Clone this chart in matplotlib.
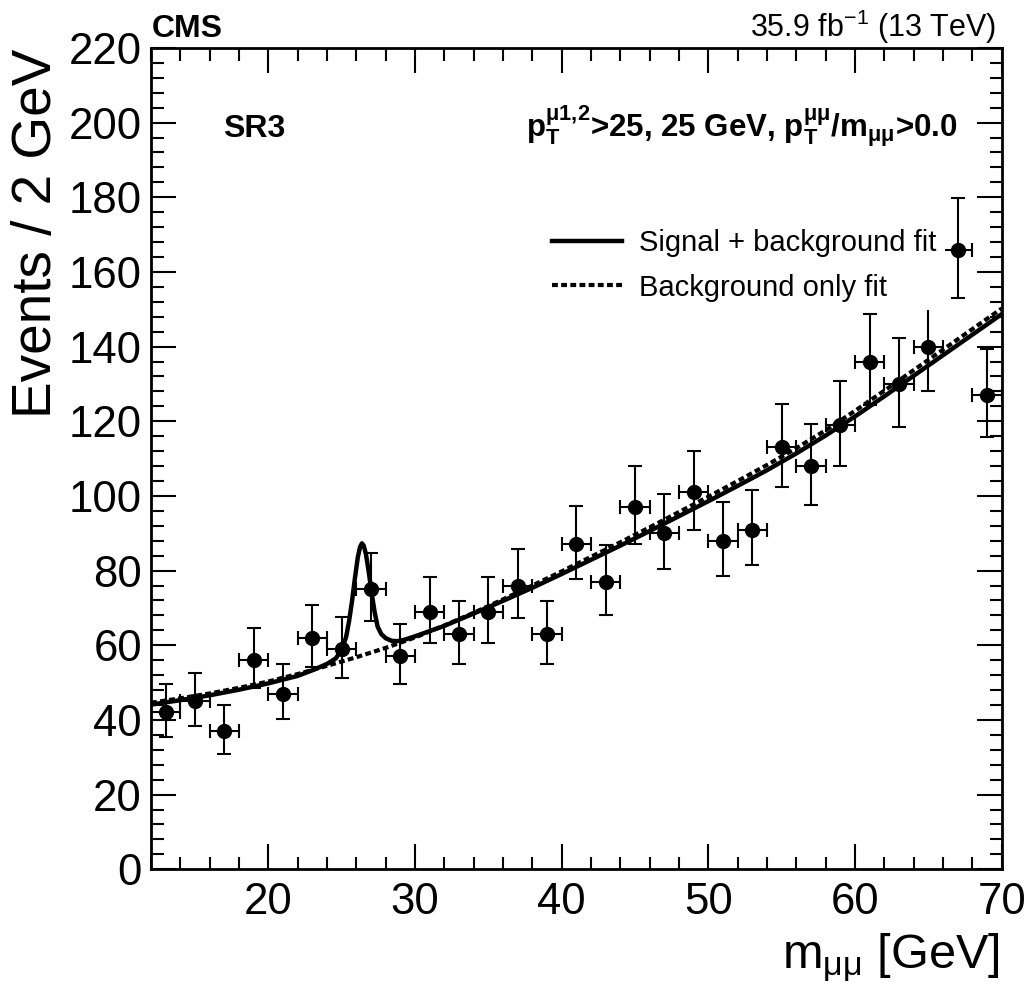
import matplotlib
matplotlib.use("Agg")
import matplotlib.pyplot as plt
from matplotlib.ticker import MultipleLocator

plt.rcParams['font.family'] = ['Liberation Sans', 'DejaVu Sans']
plt.rcParams['mathtext.fontset'] = 'custom'
plt.rcParams['mathtext.rm'] = 'Liberation Sans'
plt.rcParams['mathtext.it'] = 'Liberation Sans:italic'
plt.rcParams['mathtext.bf'] = 'Liberation Sans:bold'

# dados (centro do bin, eventos, erros de Poisson)
mass = [13, 15, 17, 19, 21, 23, 25, 27, 29, 31, 33, 35, 37, 39, 41,
        43, 45, 47, 49, 51, 53, 55, 57, 59, 61, 63, 65, 67, 69]
events = [42, 45, 37, 56, 47, 62, 59, 75, 57, 69, 63, 69, 76, 63, 87,
          77, 97, 90, 101, 88, 91, 113, 108, 119, 136, 130, 140, 166, 127]
err_lo = [6.5, 6.7, 6.1, 7.5, 6.8, 7.9, 7.7, 8.6, 7.5, 8.3, 7.9, 8.3, 8.7, 7.9, 9.3,
          8.8, 9.8, 9.5, 10.0, 9.4, 9.5, 10.6, 10.4, 10.9, 11.7, 11.4, 11.8, 12.9, 11.3]
err_hi = [7.5, 7.7, 7.1, 8.5, 7.9, 8.9, 8.7, 9.7, 8.6, 9.3, 8.9, 9.3, 9.7, 8.9, 10.3,
          9.8, 10.9, 10.5, 11.1, 10.4, 10.5, 11.6, 11.4, 11.9, 12.7, 12.4, 12.9, 13.9, 12.3]
bin_half = 1.0

# ajuste só de fundo (tracejado)
bkg_x = [12, 14, 16, 18, 20, 22, 24, 26, 28, 30, 32, 34, 36, 38, 40,
         42, 44, 46, 48, 50, 52, 54, 56, 58, 60, 62, 64, 66, 68, 70]
bkg_y = [44.6, 45.8, 47.1, 48.6, 50.3, 52.3, 54.5, 56.8, 59.3, 62.1, 65.3, 68.7, 72.3, 76.0, 79.8,
         83.7, 87.6, 91.6, 95.7, 99.8, 104.0, 108.3, 112.8, 117.6, 122.8, 128.2, 133.7, 139.2, 144.7, 150.2]

# ajuste sinal + fundo (linha cheia)
sb_x = [12, 14, 16, 18, 20, 22, 23, 24, 24.6, 25.0, 25.3, 25.5, 25.7, 25.9, 26.1,
        26.25, 26.38, 26.5, 26.65, 26.85, 27.05, 27.25, 27.45, 27.7, 28.0, 28.4, 28.8, 29.3, 30,
        32, 34, 36, 38, 40, 42, 44, 46, 48, 50, 52, 54, 56, 58, 60, 62, 64, 66, 68, 70]
sb_y = [44.1, 45.3, 46.6, 48.1, 49.8, 51.8, 53.3, 55.0, 56.5, 58.8, 62.2, 66.4, 71.7, 77.9, 83.6,
        86.3, 87.3, 86.7, 84.5, 79.5, 73.8, 68.8, 65.0, 63.0, 61.9, 61.2, 61.1, 61.5, 62.4,
        65.2, 68.5, 71.9, 75.4, 79.1, 82.9, 86.7, 90.6, 94.6, 98.6, 102.7, 106.9, 111.4, 116.2,
        121.3, 126.7, 132.2, 137.7, 143.2, 148.7]

fig = plt.figure(figsize=(10.33, 9.83), dpi=100)
ax = fig.add_axes([0.1462, 0.1157, 0.8235, 0.8355])

ax.plot(sb_x, sb_y, color="black", lw=3.2, label="Signal + background fit", zorder=3)
ax.plot(bkg_x, bkg_y, color="black", lw=3.0, dashes=(1.4, 0.8),
        label="Background only fit", zorder=3)
ax.errorbar(mass, events, yerr=[err_lo, err_hi], xerr=bin_half, fmt="o", color="black",
            ms=10, elinewidth=1.5, capsize=4.7, capthick=1.5, zorder=4)

ax.set_xlim(12, 70)
ax.set_ylim(0, 220)
ax.xaxis.set_major_locator(MultipleLocator(10))
ax.xaxis.set_minor_locator(MultipleLocator(2))
ax.yaxis.set_major_locator(MultipleLocator(20))
ax.yaxis.set_minor_locator(MultipleLocator(4))
ax.tick_params(which="both", direction="in", top=True, right=True, width=1.5)
ax.tick_params(which="major", length=18)
ax.tick_params(which="minor", length=9)
ax.tick_params(axis="x", labelsize=31.5, pad=9)
ax.tick_params(axis="y", labelsize=31.5, pad=6.5)
for s in ax.spines.values():
    s.set_linewidth(2)

leg = ax.legend(loc="center left", bbox_to_anchor=(0.4608, 0.7352), fontsize=21,
                handlelength=2.4, handletextpad=0.6, labelspacing=0.56,
                borderpad=0.3, borderaxespad=0, frameon=True, fancybox=False)
leg.get_frame().set_facecolor("white")
leg.get_frame().set_edgecolor("none")
leg.get_frame().set_alpha(1)

fig.text(0.1469, 0.9627, "CMS", fontsize=23, fontweight="bold", va="baseline")
fig.text(0.9642, 0.9627, r"35.9 fb$^{\mathrm{-1}}$ (13 TeV)", fontsize=22,
         ha="right", va="baseline")
fig.text(0.2159, 0.8609, "SR3", fontsize=23, fontweight="bold", va="baseline")
fig.text(0.9274, 0.8609,
         r"$\mathbf{p}_{\mathbf{T}}^{\mathbf{μ1{,}2}}$>25, 25 GeV, "
         r"$\mathbf{p}_{\mathbf{T}}^{\mathbf{μμ}}$/m$_{\mathbf{μμ}}$>0.0",
         fontsize=22.5, fontweight="bold", ha="right", va="baseline")

fig.text(0.968, 0.0153, r"m$_{\mathrm{μμ}}$ [GeV]", fontsize=35, ha="right", va="baseline")
fig.text(0.0358, 0.951, "Events / 2 GeV", fontsize=39.5, rotation=90,
         ha="center", va="top")

plt.savefig("out.png", dpi=100)
